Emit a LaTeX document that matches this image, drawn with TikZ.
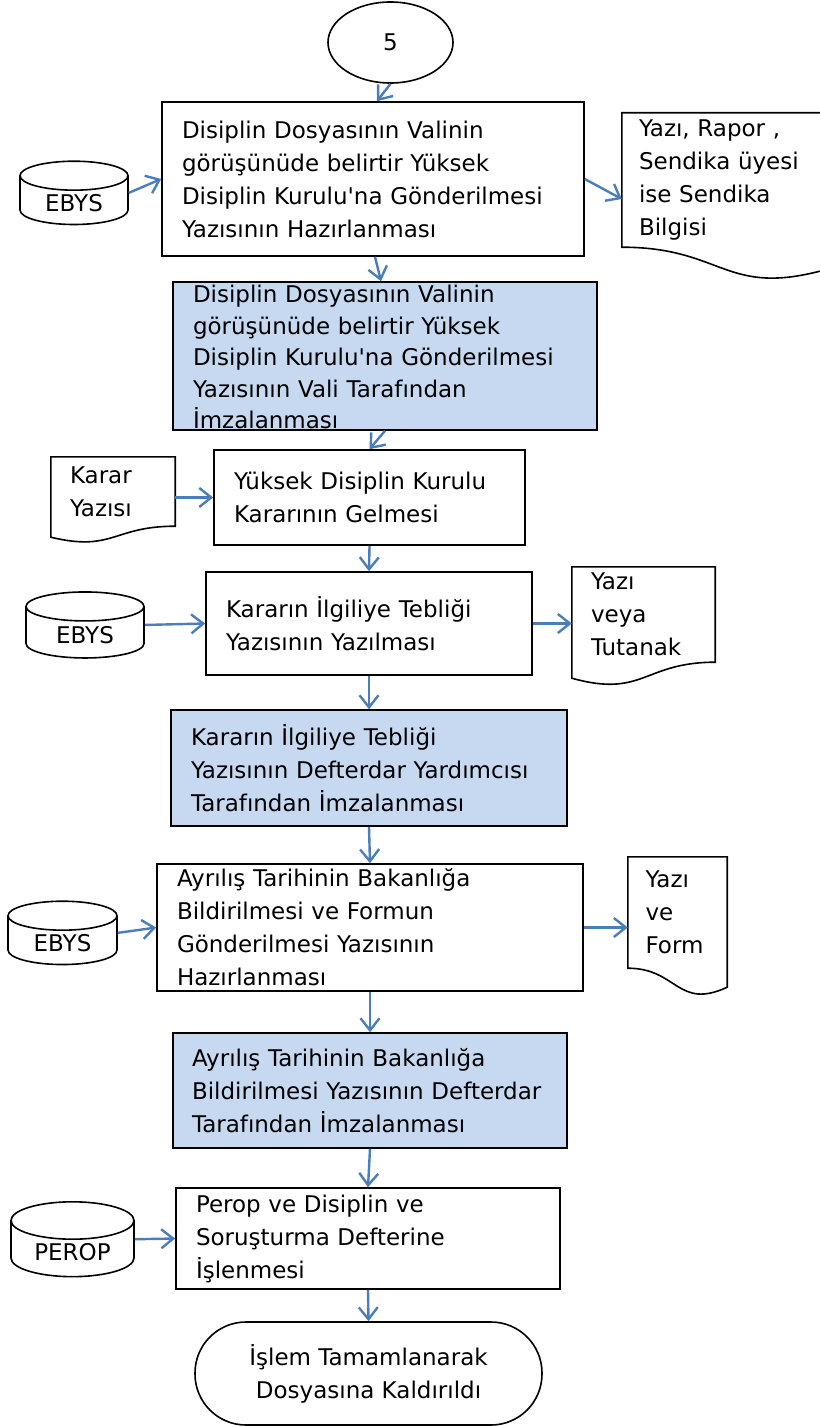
\documentclass[tikz,border=0pt]{standalone}
\usepackage{fontspec}
\setmainfont{DejaVu Sans}
\usetikzlibrary{calc}
\usetikzlibrary{positioning}
\usetikzlibrary{shapes.geometric}
\usetikzlibrary{arrows.meta}
\definecolor{okmavi}{HTML}{4A7EBB}
\definecolor{onaymavi}{HTML}{C6D9F1}
\newcommand{\metin}{\fontsize{23pt}{33pt}\selectfont}
\tikzset{
	>={Straight Barb[length=12pt,width=19pt]},
	islem/.style={
		rectangle,
		draw=black, line width=1.6pt,
		inner xsep=20pt,
		align=left,
		font=\metin},
	onay/.style={islem, fill=onaymavi},
	veri/.style={
		cylinder,
		shape border rotate=90,
		aspect=0.45,
		draw=black, line width=1.6pt,
		font=\metin},
	belge/.style={
		rectangle,
		inner xsep=19pt, inner ysep=0pt,
		align=left,
		font=\metin},
	belgecizgi/.style={draw=black, line width=1.6pt},
	baslangic/.style={ellipse, draw=black, line width=1.6pt, font=\metin},
	bitis/.style={
		rectangle, rounded corners=51pt,
		draw=black, line width=1.6pt,
		align=center,
		font=\metin},
	akis/.style={draw=okmavi, line width=2.4pt, ->},
}
% belge kenari: alt kenar dalgali
\newcommand{\belgeduz}[3]{%
	\draw[belgecizgi] (#1.north west) -- (#1.north east) -- (#1.south east)
		.. controls (#1.south) and ($(#1.south)+(0,#2)$) .. ($(#1.south west)+(0,#3)$) -- cycle;}
\newcommand{\belgeters}[3]{%
	\draw[belgecizgi] (#1.north west) -- (#1.north east) -- ($(#1.south east)+(0,#3)$)
		.. controls ($(#1.south)+(0,#2)$) and (#1.south) .. (#1.south west) -- cycle;}

\begin{document}
\begin{tikzpicture}[x=1pt, y=-1pt]
	\useasboundingbox (0,0) rectangle (819,1426);

	\node[baslangic, minimum width=125pt, minimum height=81pt] (bes) at (390.5,42.5) {5};

	\node[islem, text width=382pt, minimum height=154pt] (hazirla) at (373,179)
		{Disiplin Dosyasının Valinin\\ görüşünüde belirtir Yüksek\\ Disiplin Kurulu\textquotesingle na Gönderilmesi\\ Yazısının Hazırlanması};
	\node[onay, text width=384pt, minimum height=148pt, inner ysep=0pt, text height=17pt, text depth=124pt,
		font=\fontsize{23pt}{31.5pt}\selectfont] (imza1) at (385,356)
		{Disiplin Dosyasının Valinin\\ görüşünüde belirtir Yüksek\\ Disiplin Kurulu\textquotesingle na Gönderilmesi\\ Yazısının Vali Tarafından\\ İmzalanması};
	\node[islem, text width=271pt, minimum height=95pt] (karar) at (369.5,497.5)
		{Yüksek Disiplin Kurulu\\ Kararının Gelmesi};
	\node[islem, text width=286pt, minimum height=103pt] (teblig) at (369,623.5)
		{Kararın İlgiliye Tebliği\\ Yazısının Yazılması};
	\node[onay, text width=356pt, minimum height=116pt] (imza2) at (369,768)
		{Kararın İlgiliye Tebliği\\ Yazısının Defterdar Yardımcısı\\ Tarafından İmzalanması};
	\node[islem, text width=386pt, minimum height=127pt] (bildir) at (370,927.5)
		{Ayrılış Tarihinin Bakanlığa\\ Bildirilmesi ve Formun\\ Gönderilmesi Yazısının\\ Hazırlanması};
	\node[onay, text width=356pt, inner xsep=19pt, minimum height=115pt] (imza3) at (370,1090.5)
		{Ayrılış Tarihinin Bakanlığa\\ Bildirilmesi Yazısının Defterdar\\ Tarafından İmzalanması};
	\node[islem, text width=344pt, minimum height=101pt] (islenme) at (368,1238.5)
		{Perop ve Disiplin ve\\ Soruşturma Defterine\\ İşlenmesi};
	\node[bitis, minimum width=347pt, minimum height=103pt] (son) at (368.5,1373.5)
		{İşlem Tamamlanarak\\ Dosyasına Kaldırıldı};

	\node[veri, minimum width=108pt, minimum height=60pt] (ebys1) at (74,203) {EBYS};
	\node[veri, minimum width=118pt, minimum height=66pt] (ebys2) at (85,635) {EBYS};
	\node[veri, minimum width=109pt, minimum height=61pt] (ebys3) at (62.5,943) {EBYS};
	\node[veri, minimum width=123pt, minimum height=66pt] (perop) at (72.5,1252) {PEROP};

	\node[belge, text width=171pt, inner xsep=17pt, minimum height=134pt] (rapor) at (724.5,180)
		{Yazı, Rapor ,\\ Sendika üyesi\\ ise Sendika\\ Bilgisi};
	\node[belge, text width=86pt, minimum height=69pt] (kararyazi) at (113,491.5)
		{Karar\\ Yazısı};
	\node[belge, text width=105pt, minimum height=95pt] (tutanak) at (643.5,614.5)
		{Yazı\\ veya\\ Tutanak};
	\node[belge, text width=64pt, inner xsep=17.5pt, minimum height=111pt] (form) at (677.5,912.5)
		{Yazı\\ ve\\ Form};
	\belgeters{rapor}{51}{22}
	\belgeduz{kararyazi}{26}{11}
	\belgeduz{tutanak}{36}{16}
	\belgeters{form}{42}{19}

	\draw[akis] (bes.south) -- ($(hazirla.north)+(4,0)$);
	\draw[akis] (ebys1.shape center -| ebys1.east) -- (hazirla.west);
	\draw[akis] (hazirla.east) -- ($(rapor.west)+(0,19)$);
	\draw[akis] ($(hazirla.south)+(2,0)$) -- ($(imza1.north)+(-4,0)$);
	\draw[akis] (imza1.south) -- (karar.north);
	\draw[akis] (kararyazi.east |- karar.west) -- (karar.west);
	\draw[akis] (karar.south) -- (teblig.north);
	\draw[akis] (ebys2.shape center -| ebys2.east) -- (teblig.west);
	\draw[akis] (teblig.east) -- (teblig.east -| tutanak.west);
	\draw[akis] (teblig.south) -- (imza2.north);
	\draw[akis] (imza2.south) -- (bildir.north);
	\draw[akis] (ebys3.shape center -| ebys3.east) -- (bildir.west);
	\draw[akis] (bildir.east) -- (bildir.east -| form.west);
	\draw[akis] (bildir.south) -- (imza3.north);
	\draw[akis] (imza3.south) -- (islenme.north);
	\draw[akis] (perop.shape center -| perop.east) -- (islenme.west);
	\draw[akis] (islenme.south) -- (son.north);
\end{tikzpicture}
\end{document}
